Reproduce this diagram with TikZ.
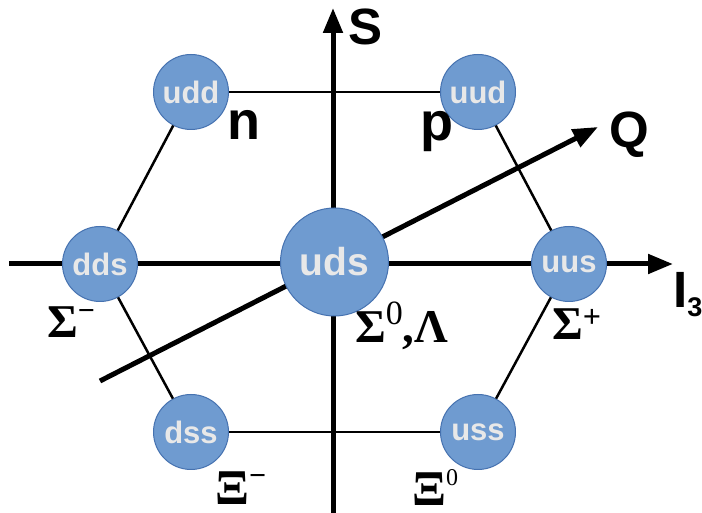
\documentclass[tikz,border=0pt]{standalone}
\usepackage{fontspec}
\setmainfont{Liberation Serif}
\setsansfont{Liberation Sans}
\usetikzlibrary{arrows.meta,positioning}
\definecolor{qfill}{HTML}{6F9BD0}
\definecolor{qedge}{HTML}{4672B0}
\definecolor{qtext}{HTML}{E8E8E8}
\newcommand{\hup}[3]{\raisebox{#2pt}{\fontsize{#1}{#1}\selectfont #3}}
\tikzstyle{quark}=[circle,draw=qedge,line width=1pt,fill=qfill,inner sep=0pt,minimum size=75pt,text=qtext,font=\sffamily\bfseries\fontsize{31}{31}\selectfont]
\tikzstyle{bigquark}=[quark,minimum size=108pt,font=\sffamily\bfseries\fontsize{39}{39}\selectfont]
\tikzstyle{axis}=[-{Triangle[length=25pt,width=19pt]},line width=5pt]
\tikzstyle{link}=[line width=2.5pt]
\tikzstyle{axlabel}=[inner sep=0pt,anchor=base,font=\sffamily\bfseries\fontsize{51}{51}\selectfont]
\tikzstyle{particle}=[axlabel,font=\sffamily\bfseries\fontsize{54}{54}\selectfont]
\tikzstyle{hadron}=[inner sep=0pt,anchor=base west,font=\bfseries\fontsize{47}{47}\selectfont]

\begin{document}
\begin{tikzpicture}[x=1pt,y=1pt]
\fill[white] (0,0) rectangle (702,513);
\useasboundingbox (0,0) rectangle (702,513);
% axis ends
\coordinate (Sbot) at (333,-2);
\coordinate (Stop) at (333,505);
\coordinate (Ileft) at (9,249);
\coordinate (Iright) at (673,249);
\coordinate (Qlow) at (100,132);
\coordinate (Qhigh) at (598,386);
\draw[axis] (Sbot) -- (Stop);
\draw[axis] (Ileft) -- (Iright);
\draw[axis] (Qlow) -- (Qhigh);
% octet
\node[quark] (udd) at (191,421) {udd};
\node[quark] (uud) at (478,421) {uud};
\node[quark] (dds) at (100,249) {dds};
\node[bigquark] (uds) at (334.5,251) {uds};
\node[quark] (uus) at (569,249) {uus};
\node[quark] (dss) at (191,81) {dss};
\node[quark] (uss) at (478,81) {uss};
\draw[link] (udd) -- (uud);
\draw[link] (uud) -- (uus);
\draw[link] (uus) -- (uss);
\draw[link] (uss) -- (dss);
\draw[link] (dss) -- (dds);
\draw[link] (dds) -- (udd);
% labels
\node[axlabel] (S) at (366,468) {S};
\node[axlabel] (Q) at (629,365) {Q};
\node[axlabel,anchor=base west] (I3) at (673,205) {I\raisebox{-9pt}{\fontsize{27}{27}\selectfont 3}};
\node[particle] (n) at (243.5,373) {n};
\node[particle] (p) at (436.5,372) {p};
\node[hadron] (Sm) at (47,175) {Σ\hup{30}{17}{−}};
\node[hadron] (S0L) at (355,170) {Σ\hup{34}{18}{\mdseries 0},Λ};
\node[hadron] (Sp) at (552,173) {Σ\hup{32}{12}{+}};
\node[hadron,font=\bfseries\fontsize{50}{50}\selectfont] (Xm) at (215,8) {Ξ\hup{30}{19}{−}};
\node[hadron,font=\bfseries\fontsize{50}{50}\selectfont] (X0) at (412,7) {Ξ\hup{24}{20}{\mdseries 0}};
\end{tikzpicture}
\end{document}
